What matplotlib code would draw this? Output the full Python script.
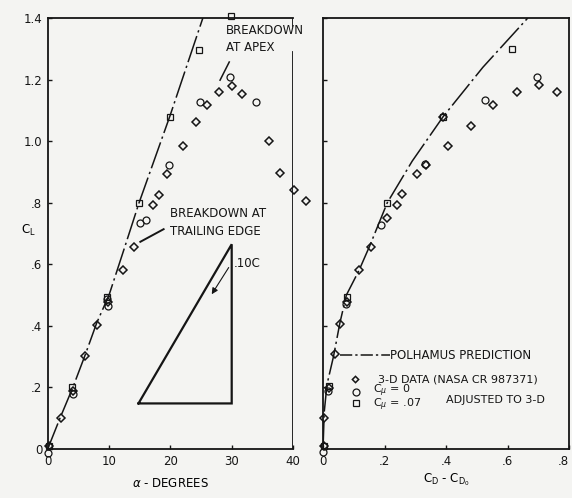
import numpy as np
import matplotlib.pyplot as plt

# Polhamus prediction
alpha_line = [0, 2.0, 4.1, 6.1, 8.0, 10.0, 12.3, 14.9, 19.9, 25.3]
cl_line_a = [0, 0.10, 0.20, 0.305, 0.41, 0.50, 0.64, 0.80, 1.08, 1.40]
cd_line = [0, 0.004, 0.013, 0.034, 0.055, 0.076, 0.117, 0.152, 0.209, 0.29, 0.391, 0.52, 0.666]
cl_line_c = [0, 0.12, 0.21, 0.30, 0.41, 0.50, 0.58, 0.66, 0.80, 0.935, 1.08, 1.24, 1.40]

# 3-D data (diamonds)
alpha_3d = [0.2, 2.1, 4.1, 6.1, 8.1, 9.9, 12.2, 14.1, 17.2, 18.2, 19.4, 22.0, 24.2, 25.9,
            27.9, 30.0, 31.7, 36.0, 37.9, 40.1, 42.1]
cl_3d = [0.01, 0.10, 0.19, 0.302, 0.404, 0.478, 0.582, 0.657, 0.792, 0.825, 0.893, 0.984,
         1.063, 1.117, 1.158, 1.179, 1.152, 1.0, 0.895, 0.841, 0.804]
cd_3d = [0.003, 0.004, 0.02, 0.038, 0.055, 0.078, 0.118, 0.157, 0.209, 0.242, 0.256, 0.305,
         0.335, 0.405, 0.391, 0.48, 0.554, 0.63, 0.703, 0.76]
cl_3d_r = [0.01, 0.10, 0.198, 0.308, 0.406, 0.477, 0.581, 0.656, 0.749, 0.792, 0.827, 0.893,
           0.922, 0.984, 1.079, 1.05, 1.117, 1.16, 1.182, 1.16]

# C_mu = 0 (circles)
alpha_c0 = [0.1, 4.2, 9.9, 9.7, 15.0, 16.1, 19.8, 24.8, 29.8, 33.9]
cl_c0 = [-0.012, 0.179, 0.466, 0.487, 0.733, 0.745, 0.921, 1.128, 1.208, 1.126]
cd_c0 = [0.0, 0.017, 0.076, 0.19, 0.333, 0.527, 0.695]
cl_c0_r = [-0.009, 0.19, 0.47, 0.727, 0.925, 1.133, 1.207]

# C_mu = .07 (squares)
alpha_c07 = [0.2, 4.0, 9.7, 14.95, 19.9, 24.6, 29.9]
cl_c07 = [0.01, 0.202, 0.493, 0.80, 1.079, 1.297, 1.405]
cd_c07 = [0.003, 0.021, 0.077, 0.209, 0.391, 0.614]
cl_c07_r = [0.01, 0.205, 0.493, 0.80, 1.079, 1.298]

# flap triangle sketch
tri_alpha = [14.8, 30.0, 30.0, 14.8]
tri_cl = [0.148, 0.148, 0.665, 0.148]

ink = '#151515'
bg = '#f4f4f2'
plt.rcParams['font.family'] = ['DejaVu Sans']
plt.rcParams['font.size'] = 8.5
plt.rcParams['text.color'] = ink

fig = plt.figure(figsize=(5.72, 4.98), dpi=100, facecolor=bg)
ax1 = fig.add_axes([0.0834, 0.0984, 0.4289, 0.8655], facecolor=bg)
ax2 = fig.add_axes([0.5647, 0.0984, 0.4301, 0.8655], facecolor=bg)

dash = (18, 2.5, 1.5, 2.5)
mk = dict(linestyle='none', markerfacecolor='none', markeredgecolor=ink, clip_on=False, zorder=4)

# left: CL vs alpha
ax1.plot(alpha_line, cl_line_a, color=ink, lw=1.1, dashes=dash)
ax1.plot(alpha_3d, cl_3d, marker='D', markersize=3.8, markeredgewidth=1.1, **mk)
ax1.plot(alpha_c0, cl_c0, marker='o', markersize=5, markeredgewidth=0.9, **mk)
ax1.plot(alpha_c07, cl_c07, marker='s', markersize=4.5, markeredgewidth=0.9, **mk)
ax1.plot(tri_alpha, tri_cl, color=ink, lw=1.6, solid_joinstyle='miter')
ax1.annotate('', xy=(26.5, 0.495), xytext=(29.75, 0.597),
             arrowprops=dict(arrowstyle='-|>', lw=0.8, color=ink, mutation_scale=9))
ax1.text(30.3, 0.603, '.10C', va='center', ha='left')

ax1.text(29.0, 1.38, 'BREAKDOWN\nAT APEX', va='top', ha='left', linespacing=1.4)
ax1.plot([29.6, 28.1], [1.257, 1.198], color=ink, lw=1.1)
ax1.text(19.9, 0.787, 'BREAKDOWN AT\nTRAILING EDGE', va='top', ha='left', linespacing=1.55)
ax1.plot([18.9, 15.1], [0.714, 0.673], color=ink, lw=1.4)

ax1.set_xlim(0, 40)
ax1.set_ylim(0, 1.4)
ax1.set_xticks([0, 10, 20, 30, 40])
ax1.set_yticks([0, 0.2, 0.4, 0.6, 0.8, 1.0, 1.2, 1.4])
ax1.set_yticklabels(['0', '.2', '.4', '.6', '.8', '1.0', '1.2', '1.4'])
ax1.set_xlabel(r'$\alpha$ - DEGREES', labelpad=7)
ax1.set_ylabel(r'C$_\mathrm{L}$', rotation=0)
ax1.yaxis.set_label_coords(-0.08, 0.49)

# right spine of the left panel is broken behind the label
ax1.spines['right'].set_visible(False)
ax1.axvline(40, ymin=0, ymax=1.29 / 1.4, color=ink, lw=1.3)
ax1.axvline(40, ymin=1.375 / 1.4, ymax=1, color=ink, lw=1.3)

# right: CL vs CD - CD0
ax2.plot(cd_line, cl_line_c, color=ink, lw=1.1, dashes=dash)
ax2.plot(cd_3d, cl_3d_r, marker='D', markersize=3.8, markeredgewidth=1.1, **mk)
ax2.plot(cd_c0, cl_c0_r, marker='o', markersize=5, markeredgewidth=0.9, **mk)
ax2.plot(cd_c07, cl_c07_r, marker='s', markersize=4.5, markeredgewidth=0.9, **mk)

ax2.set_xlim(0, 0.8)
ax2.set_ylim(0, 1.4)
ax2.set_xticks([0, 0.2, 0.4, 0.6, 0.8])
ax2.set_xticklabels(['0', '.2', '.4', '.6', '.8'])
ax2.get_xticklabels()[-1].set_horizontalalignment('right')
ax2.set_yticks([0, 0.2, 0.4, 0.6, 0.8, 1.0, 1.2, 1.4])
ax2.set_yticklabels([])
ax2.set_xlabel(r'C$_\mathrm{D}$ - C$_{\mathrm{D}_\mathrm{0}}$', labelpad=3)

# legend drawn by hand
ax2.plot([0.069, 0.272], [0.218, 0.218], transform=ax2.transAxes, color=ink, lw=1.1,
         dashes=(8, 2, 1.5, 2))
ax2.text(0.272, 0.218, 'POLHAMUS PREDICTION', transform=ax2.transAxes, va='center')
ax2.plot([0.13], [0.162], transform=ax2.transAxes, marker='D', markersize=3.2,
         markeredgewidth=1.1, **mk)
ax2.text(0.225, 0.162, '3-D DATA (NASA CR 987371)', transform=ax2.transAxes, va='center',
         fontsize=8)
ax2.plot([0.133], [0.132], transform=ax2.transAxes, marker='o', markersize=5,
         markeredgewidth=0.9, **mk)
ax2.plot([0.133], [0.106], transform=ax2.transAxes, marker='s', markersize=4.5,
         markeredgewidth=0.9, **mk)
ax2.text(0.205, 0.119, r'C$_\mu$ = 0' + '\n' + r'C$_\mu$ = .07', transform=ax2.transAxes,
         va='center', fontsize=8, linespacing=0.8)
ax2.text(0.50, 0.114, 'ADJUSTED TO 3-D', transform=ax2.transAxes, va='center', fontsize=8)

for ax in (ax1, ax2):
    for s in ax.spines.values():
        s.set_color(ink)
        s.set_linewidth(1.3)
    ax.tick_params(direction='in', length=3, width=1, colors=ink, pad=4, labelsize=8.5)

fig.savefig('out.png', dpi=100, facecolor=bg)
